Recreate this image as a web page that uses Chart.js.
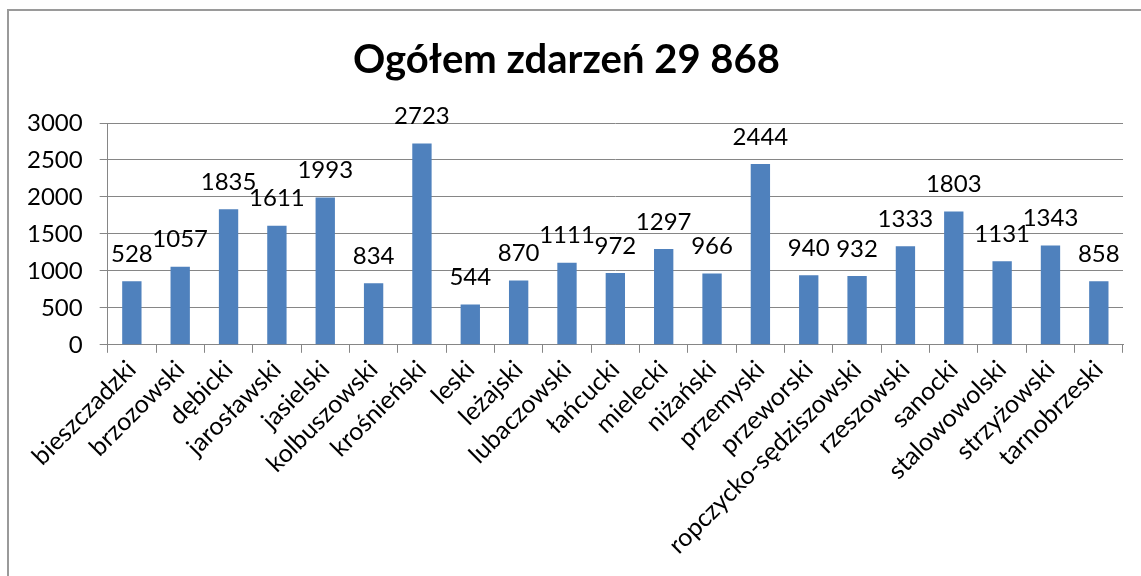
<!DOCTYPE html>
<html>
<head>
<meta charset="utf-8">
<script src="https://cdn.jsdelivr.net/npm/chart.js@4.4.0/dist/chart.umd.min.js"></script>
<style>
    body { margin: 0; background: #fff; }
    #wrap { position: relative; width: 1141px; height: 576px; }
    #frame { position: absolute; left: 7px; top: 9px; right: -10px; bottom: -10px; border-left: 2px solid #9a9a9a; border-top: 2px solid #9a9a9a; }
    canvas { position: absolute; left: 0; top: 0; }
</style>
</head>
<body>
<div id="wrap">
    <div id="frame"></div>
    <canvas id="zdarzeniaChart" width="1141" height="576"></canvas>
</div>
<script>
// Powiaty (categories)
var powiaty = ['bieszczadzki', 'brzozowski', 'dębicki', 'jarosławski', 'jasielski', 'kolbuszowski',
    'krośnieński', 'leski', 'leżajski', 'lubaczowski', 'łańcucki', 'mielecki', 'niżański', 'przemyski',
    'przeworski', 'ropczycko-sędziszowski', 'rzeszowski', 'sanocki', 'stalowowolski', 'strzyżowski', 'tarnobrzeski'];

// Bar heights
var zdarzenia = [860, 1057, 1835, 1611, 1993, 834, 2723, 544, 870, 1111, 972, 1297, 966, 2444,
    940, 932, 1333, 1803, 1131, 1343, 858];

// Data label texts shown above the bars (first one differs from its bar in the original)
var etykiety = ['528', '1057', '1835', '1611', '1993', '834', '2723', '544', '870', '1111', '972', '1297', '966', '2444',
    '940', '932', '1333', '1803', '1131', '1343', '858'];

var yTicks = [0, 500, 1000, 1500, 2000, 2500, 3000];
var tytul = 'Ogółem zdarzeń 29 868';

var FONT = 'Lato, "Open Sans", sans-serif';

// draws the value texts above every bar
var barLabels = {
    id: 'barLabels',
    afterDatasetsDraw: function (chart) {
        var ctx = chart.ctx;
        var meta = chart.getDatasetMeta(0);
        ctx.save();
        ctx.font = '24px ' + FONT;
        ctx.fillStyle = '#000';
        ctx.textAlign = 'center';
        ctx.textBaseline = 'middle';
        meta.data.forEach(function (bar, i) {
            ctx.fillText(etykiety[i], bar.x, bar.y - 27);
        });
        ctx.restore();
    }
};

var chart = new Chart(document.getElementById('zdarzeniaChart'), {
    type: 'bar',
    data: {
        labels: powiaty,
        datasets: [{
            data: zdarzenia,
            backgroundColor: '#4f81bd',
            borderWidth: 0,
            categoryPercentage: 1,
            barPercentage: 0.4
        }]
    },
    options: {
        responsive: false,
        animation: false,
        layout: { padding: { left: 10, right: 18, top: 0, bottom: 14 } },
        plugins: {
            legend: { display: false },
            tooltip: { enabled: false },
            title: {
                display: true,
                text: tytul,
                color: '#000',
                font: { family: FONT, size: 40, weight: 'bold' },
                padding: { top: 36, bottom: 39 }
            }
        },
        scales: {
            x: {
                grid: { drawOnChartArea: false, color: '#868686', tickLength: 8, offset: true },
                border: { color: '#868686', width: 1 },
                ticks: {
                    color: '#000',
                    font: { family: FONT, size: 25 },
                    maxRotation: 45,
                    minRotation: 45,
                    autoSkip: false,
                    padding: 2
                }
            },
            y: {
                min: 0,
                max: 3000,
                afterBuildTicks: function (axis) {
                    axis.ticks = yTicks.map(function (v) { return { value: v }; });
                },
                grid: { color: '#868686', tickLength: 8 },
                border: { color: '#868686', width: 1 },
                ticks: {
                    color: '#000',
                    font: { family: FONT, size: 24 },
                    padding: 17,
                    callback: function (value) { return String(value); }
                }
            }
        }
    },
    plugins: [barLabels]
});
</script>
</body>
</html>
